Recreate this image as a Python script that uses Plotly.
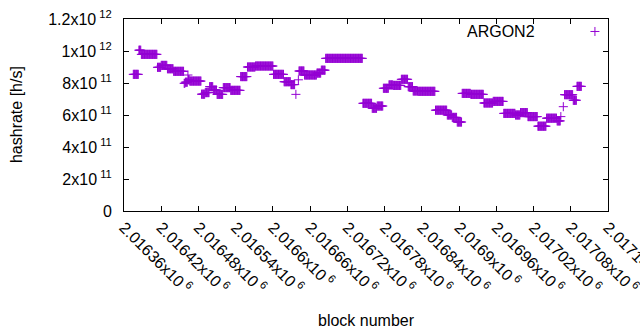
import numpy as np
import plotly.graph_objects as go

# Runs of consecutive blocks that share the same hashrate value
run_first_block = [2016375, 2016384, 2016388, 2016414, 2016420, 2016430, 2016440, 2016457, 2016459, 2016463,
                   2016464, 2016466, 2016485, 2016491, 2016498, 2016504, 2016510, 2016520, 2016532, 2016548,
                   2016559, 2016572, 2016601, 2016618, 2016629, 2016637, 2016641, 2016642, 2016651, 2016671,
                   2016678, 2016685, 2016745, 2016760, 2016768, 2016778, 2016787, 2016794, 2016807, 2016818,
                   2016826, 2016834, 2016862, 2016881, 2016889, 2016897, 2016905, 2016919, 2016940, 2016955,
                   2016972, 2016991, 2016999, 2017011, 2017027, 2017041, 2017058, 2017064, 2017068, 2017070,
                   2017084, 2017090]
run_last_block = [2016383, 2016387, 2016413, 2016419, 2016429, 2016439, 2016456, 2016458, 2016462, 2016463,
                  2016465, 2016484, 2016490, 2016497, 2016503, 2016509, 2016519, 2016531, 2016547, 2016558,
                  2016571, 2016600, 2016617, 2016628, 2016635, 2016637, 2016641, 2016650, 2016670, 2016677,
                  2016684, 2016744, 2016759, 2016767, 2016777, 2016786, 2016793, 2016806, 2016817, 2016825,
                  2016833, 2016861, 2016880, 2016888, 2016896, 2016904, 2016918, 2016939, 2016954, 2016971,
                  2016990, 2016998, 2017010, 2017026, 2017040, 2017057, 2017063, 2017064, 2017068, 2017083,
                  2017089, 2017097]
run_hashrate = [8.54e11, 10.05e11, 9.79e11, 8.98e11, 9.10e11, 8.89e11, 8.73e11, 7.98e11, 8.05e11, 8.50e11,
                8.20e11, 8.12e11, 7.30e11, 7.40e11, 7.77e11, 7.56e11, 7.29e11, 7.71e11, 7.54e11, 8.40e11,
                9.00e11, 9.06e11, 8.54e11, 8.08e11, 7.90e11, 7.29e11, 8.20e11, 8.75e11, 8.50e11, 8.62e11,
                8.80e11, 9.54e11, 6.73e11, 6.42e11, 6.56e11, 7.67e11, 7.88e11, 7.85e11, 8.23e11, 7.77e11,
                7.50e11, 7.48e11, 6.30e11, 6.00e11, 5.85e11, 5.56e11, 7.35e11, 7.29e11, 6.75e11, 6.85e11,
                6.10e11, 6.00e11, 6.15e11, 5.90e11, 5.30e11, 5.80e11, 5.63e11, 5.90e11, 6.52e11, 7.27e11,
                6.92e11, 7.79e11]

x_tick_values = list(range(2016360, 2017141, 60))
y_tick_values = [0, 2e11, 4e11, 6e11, 8e11, 1e12, 1.2e12]
y_tick_labels = ["0", "2x10<sup> 11</sup>", "4x10<sup> 11</sup>", "6x10<sup> 11</sup>",
                 "8x10<sup> 11</sup>", "1x10<sup> 12</sup>", "1.2x10<sup> 12</sup>"]
series_name = "ARGON2"

blocks = []
rates = []
for a, b, v in zip(run_first_block, run_last_block, run_hashrate):
    n = b - a + 1
    blocks.extend(range(a, b + 1))
    rates.extend([v] * n)

x_tick_labels = [f"{v/1e6:g}x10<sup> 6</sup>" for v in x_tick_values]

color = "#9400d3"
font = dict(family="Liberation Sans, Arial, sans-serif", size=16, color="black")

fig = go.Figure()
fig.add_trace(go.Scatter(
    x=blocks, y=rates, mode="markers", name=series_name, showlegend=False,
    marker=dict(symbol="cross-thin", size=6.5, color=color, line=dict(color=color, width=1)),
))

axis_common = dict(showline=True, linecolor="black", linewidth=1, mirror="ticks",
                   ticks="inside", ticklen=5, tickcolor="black", showgrid=False,
                   zeroline=False, tickfont=font, automargin=False, ticklabeloverflow="allow")

fig.update_xaxes(range=[2016360, 2017140], tickvals=x_tick_values, ticktext=x_tick_labels,
                 tickangle=45, **axis_common)
fig.update_yaxes(range=[0, 1.2e12], tickvals=y_tick_values, ticktext=y_tick_labels,
                 ticklabelstandoff=8, **axis_common)

# legend sample position (paper units)
lx, ly = 0.973, 0.935
dx, dy = 4.5 / 484, 4.5 / 192

fig.update_layout(
    width=640, height=330,
    margin=dict(l=124, r=32, t=19, b=119),
    paper_bgcolor="white", plot_bgcolor="white",
    font=font,
    annotations=[
        dict(text="hashrate [h/s]", xref="paper", yref="paper", x=-0.223, y=0.5,
             textangle=-90, showarrow=False, font=font, xanchor="center", yanchor="middle"),
        dict(text="block number", xref="paper", yref="paper", x=0.5, y=-0.568,
             showarrow=False, font=font, xanchor="center", yanchor="middle"),
        dict(text=series_name, xref="paper", yref="paper", x=0.7045, y=0.9375,
             showarrow=False, font=font, xanchor="left", yanchor="middle"),
    ],
    shapes=[
        dict(type="line", xref="paper", yref="paper", x0=lx - dx, x1=lx + dx, y0=ly, y1=ly,
             line=dict(color=color, width=1)),
        dict(type="line", xref="paper", yref="paper", x0=lx, x1=lx, y0=ly - dy, y1=ly + dy,
             line=dict(color=color, width=1)),
    ],
)

fig.write_html("out.html", config={"displayModeBar": False},
               post_script="document.body.style.margin='0';document.body.style.padding='0';"
                           "document.body.style.overflow='hidden';")
